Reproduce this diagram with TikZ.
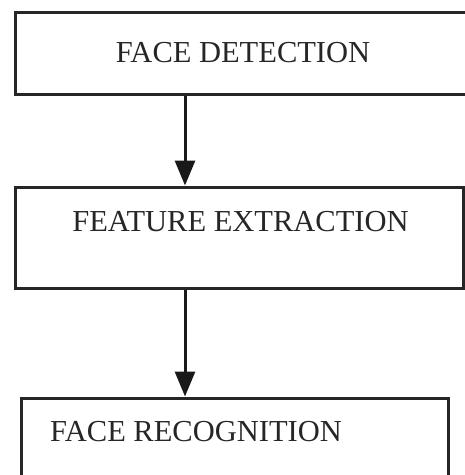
\documentclass[tikz,border=0pt]{standalone}
\usepackage{fontspec}
\setmainfont{Liberation Serif}
\usetikzlibrary{arrows.meta}
\begin{document}
\begin{tikzpicture}[x=1pt,y=-1pt,
  stagebox/.style={draw=black!85,line width=3pt,rectangle,inner sep=0pt},
  stagetext/.style={text=black!85,font=\fontsize{30.5}{33}\selectfont,inner sep=0pt},
  flow/.style={line width=3pt,draw=black!90,-{Triangle[width=20pt,length=25pt]}}]
  \useasboundingbox (0,0) rectangle (465,475);
  \clip (0,0) rectangle (465,475);
  % boxes
  \node (detect) at (245,53)    [stagebox,minimum width=460pt,minimum height=82pt] {};
  \node (extract) at (239,237.5) [stagebox,minimum width=448pt,minimum height=101pt] {};
  \node (recog) at (234.5,449)  [stagebox,minimum width=427pt,minimum height=102pt] {};
  % labels
  \node (detecttxt) at (243,53) [stagetext] {FACE DETECTION};
  \node (extracttxt) at (240.5,222) [stagetext] {FEATURE EXTRACTION};
  \node (recogtxt) at (50,432) [stagetext,anchor=west] {FACE RECOGNITION};
  % arrows
  \coordinate (axis) at (185,0);
  \draw[flow] (detect.south -| axis) -- (extract.north -| axis);
  \draw[flow] (extract.south -| axis) -- (recog.north -| axis);
\end{tikzpicture}
\end{document}
